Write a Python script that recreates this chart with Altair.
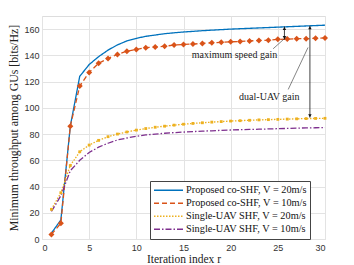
import altair as alt
import pandas as pd

r = list(range(1, 31))
co_20 = [4.5, 14.5, 86, 124, 133, 139, 144, 148, 151, 153, 154.5, 155.5, 156.5, 157.2, 157.8,
         158.3, 158.8, 159.2, 159.6, 160, 160.3, 160.6, 160.9, 161.2, 161.5, 161.8, 162.1, 162.4, 162.7, 163]
co_10 = [3.5, 12, 86, 116.6, 127, 134, 137.6, 140.7, 143.2, 144.5, 145.8, 146.3, 147, 147.8, 148.3,
         148.6, 149.1, 149.6, 149.9, 150.3, 150.6, 151, 151.3, 151.6, 152.2, 152.4, 152.7, 152.7, 153, 153.3]
single_20 = [22.6, 35.3, 56, 66.5, 71.6, 75.2, 78, 80, 81.6, 83, 84.2, 85.2, 86, 86.8, 87.5,
             88.1, 88.6, 89.1, 89.5, 89.9, 90.2, 90.5, 90.8, 91, 91.2, 91.4, 91.6, 91.8, 91.9, 92]
single_10 = [21, 33, 52, 60, 66, 70, 73, 75.5, 77, 78.3, 79.3, 80, 80.6, 81.1, 81.5,
             81.9, 82.2, 82.5, 82.8, 83.1, 83.3, 83.5, 83.7, 83.9, 84.1, 84.3, 84.5, 84.7, 84.8, 85]

series_names = ["Proposed co-SHF, V = 20m/s", "Proposed co-SHF, V = 10m/s",
                "Single-UAV SHF, V = 20m/s", "Single-UAV SHF, V = 10m/s"]
colors = ["#0072BD", "#D95319", "#EDB120", "#7E2F8E"]
dashes = [[1, 0], [5, 3], [1.5, 1.5], [6, 2, 1.5, 2]]

x_ticks = [0, 5, 10, 15, 20, 25, 30]
y_ticks = [0, 20, 40, 60, 80, 100, 120, 140, 160]

# annotations (data coordinates)
ann_text = ["maximum speed gain", "dual-UAV gain"]
ann_x = [20.4, 24.1]
ann_y = [140, 108]
arrow_x = [25.7, 28.4]
arrow_top = [162, 162.6]
arrow_bot = [152, 92.5]
leader_x1 = [24.5, 26.1]
leader_y1 = [145, 114]
leader_x2 = [25.9, 28.2]
leader_y2 = [154, 146]

rows = []
for name, vals in zip(series_names, [co_20, co_10, single_20, single_10]):
    for xi, yi in zip(r, vals):
        rows.append({"r": xi, "v": yi, "series": name})
df = pd.DataFrame(rows)

serif = "Liberation Serif"
sans = "Liberation Sans"

xs = alt.Scale(domain=[0, 30], nice=False)
ys = alt.Scale(domain=[0, 170], nice=False)
cscale = alt.Scale(domain=series_names, range=colors)
dscale = alt.Scale(domain=series_names, range=dashes)

x_title = "Iteration index r"
y_title = "Minimum throughput among GUs [bits/Hz]"
x_axis = alt.Axis(values=x_ticks, labelFont=sans, labelFontSize=9, labelOverlap=False,
                  labelColor="#333", titleFont=serif, titleFontSize=11.5,
                  titleFontWeight="normal", titleColor="#222", ticks=False,
                  labelPadding=4, titlePadding=1, gridColor="#e3e3e3", domain=False)
y_axis = alt.Axis(values=y_ticks, labelFont=sans, labelOverlap=False,
                  labelFontSize=9, labelColor="#333", titleFont=serif, titleFontSize=11.8,
                  titleFontWeight="normal", titleColor="#222", ticks=False,
                  labelPadding=3, titlePadding=4, gridColor="#e3e3e3", domain=False)


def X(f):
    return alt.X(f, scale=xs, title=x_title, axis=x_axis)


def Y(f):
    return alt.Y(f, scale=ys, title=y_title, axis=y_axis)


lines = alt.Chart(df).mark_line(strokeWidth=1.3).encode(
    x=X("r:Q"), y=Y("v:Q"),
    color=alt.Color("series:N", scale=cscale, sort=series_names,
                    legend=alt.Legend(title=None, orient="none", legendX=108, legendY=165,
                                      symbolType="stroke", symbolSize=841, symbolStrokeWidth=1.5,
                                      clipHeight=12.5, labelFont=serif, labelFontSize=10.3,
                                      labelColor="#111", fillColor="white", strokeColor="#444",
                                      padding=3, rowPadding=0, labelOffset=2, labelLimit=220)),
    strokeDash=alt.StrokeDash("series:N", scale=dscale, sort=series_names, legend=None),
)

pts_or = alt.Chart(df[df.series == series_names[1]]).mark_point(
    shape="diamond", filled=True, size=36, color=colors[1], opacity=1).encode(
    x=X("r:Q"), y=Y("v:Q"))
pts_ye = alt.Chart(df[df.series == series_names[2]]).mark_point(
    shape="square", filled=True, size=8, color=colors[2], opacity=1).encode(
    x=X("r:Q"), y=Y("v:Q"))

adf = pd.DataFrame({"t": ann_text, "x": ann_x, "y": ann_y, "ax": arrow_x, "at": arrow_top,
                    "ab": arrow_bot, "lx1": leader_x1, "ly1": leader_y1,
                    "lx2": leader_x2, "ly2": leader_y2})

texts = alt.Chart(adf).mark_text(font=serif, fontSize=10, color="#222").encode(
    x=X("x:Q"), y=Y("y:Q"), text="t:N")
arrows = alt.Chart(adf).mark_rule(color="#111", strokeWidth=0.8).encode(
    x=X("ax:Q"), y=Y("at:Q"), y2="ab:Q")
heads_up = alt.Chart(adf).mark_point(shape="triangle-up", filled=True, size=12, color="#111",
                                     opacity=1, yOffset=2).encode(
    x=X("ax:Q"), y=Y("at:Q"))
heads_dn = alt.Chart(adf).mark_point(shape="triangle-down", filled=True, size=12, color="#111",
                                     opacity=1, yOffset=-2).encode(
    x=X("ax:Q"), y=Y("ab:Q"))
leaders = alt.Chart(adf).mark_rule(color="#333", strokeWidth=0.6).encode(
    x=X("lx1:Q"), y=Y("ly1:Q"), x2="lx2:Q", y2="ly2:Q")

chart = alt.layer(lines, pts_or, pts_ye, leaders, arrows, heads_up, heads_dn, texts).properties(
    width=283, height=223,
    autosize=alt.AutoSizeParams(type="none"),
    padding={"left": 34, "top": 8, "right": 10, "bottom": 26},
).configure_view(stroke="#333", strokeWidth=0.8).configure(background="white")

chart.save("out.html", embed_options={"renderer": "svg", "actions": False})
